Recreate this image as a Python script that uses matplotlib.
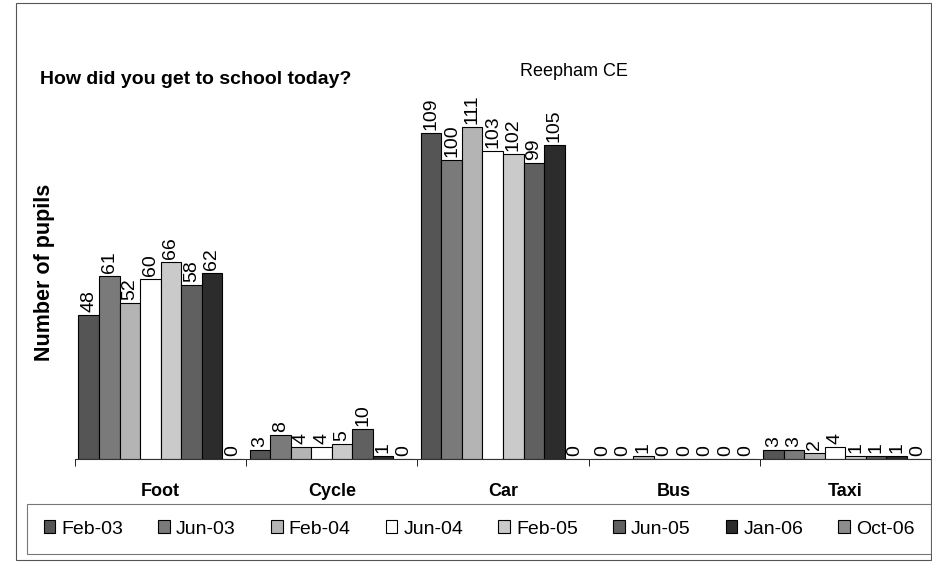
import matplotlib.pyplot as plt
import matplotlib.patches as mpatches
import numpy as np

plt.rcParams['font.family'] = ['Liberation Sans', 'DejaVu Sans']

categories = ["Foot", "Cycle", "Car", "Bus", "Taxi"]
periods = ["Feb-03", "Jun-03", "Feb-04", "Jun-04", "Feb-05", "Jun-05", "Jan-06", "Oct-06"]

# pupils per mode, one list per survey date
feb03 = [48, 3, 109, 0, 3]
jun03 = [61, 8, 100, 0, 3]
feb04 = [52, 4, 111, 1, 2]
jun04 = [60, 4, 103, 0, 4]
feb05 = [66, 5, 102, 0, 1]
jun05 = [58, 10, 99, 0, 1]
jan06 = [62, 1, 105, 0, 1]
oct06 = [0, 0, 0, 0, 0]
series = [feb03, jun03, feb04, jun04, feb05, jun05, jan06, oct06]

colors = ["#555555", "#7a7a7a", "#b4b4b4", "#ffffff", "#cacaca", "#606060", "#2c2c2c", "#8c8c8c"]

fig = plt.figure(figsize=(9.32, 5.63), dpi=100)
ax = fig.add_axes([75/932, 104/563, 856/932, 377/563])

x = np.arange(len(categories))
w = 0.12
for i, vals in enumerate(series):
    pos = x - 0.48 + w * (i + 0.5)
    bars = ax.bar(pos, vals, w, color=colors[i], edgecolor="black", linewidth=0.8, label=periods[i])
    for b, v in zip(bars, vals):
        ax.text(b.get_x() + b.get_width() / 2, v + 1.0, str(v), rotation=90,
                ha="center", va="bottom", fontsize=14)

ax.set_xlim(-0.5, 4.5)
ax.set_ylim(0, 126)
ax.set_yticks([])
ax.set_xticks(x)
ax.set_xticklabels(categories, fontsize=13, fontweight="bold")
ax.set_xticks(np.arange(-0.5, 5, 1), minor=True)
ax.tick_params(axis="x", which="major", length=0, pad=17)
ax.tick_params(axis="x", which="minor", length=5, direction="out")
for s in ["top", "right", "left"]:
    ax.spines[s].set_visible(False)
ax.spines["bottom"].set_color("#333333")

fig.text(45/932, 1 - 272/563, "Number of pupils", rotation=90, ha="center", va="center",
         fontsize=15.5, fontweight="bold")
fig.text(40/932, 1 - 80/563, "How did you get to school today?", ha="left", va="center",
         fontsize=14, fontweight="bold")
fig.text(520/932, 1 - 72/563, "Reepham CE", ha="left", va="center", fontsize=13)

leg = fig.legend(loc="center left", bbox_to_anchor=(27/932, 1 - 529/563, 904/932, 0), mode="expand",
                 ncol=8, fontsize=14, frameon=True, fancybox=False, edgecolor="#555555",
                 handlelength=0.6, handleheight=0.6, handletextpad=0.3, columnspacing=0.5,
                 borderpad=0.85, borderaxespad=0)
leg.get_frame().set_linewidth(0.8)

fig.patches.append(mpatches.Rectangle((16/932, 3/563), 915/932, 557/563, transform=fig.transFigure,
                                      fill=False, edgecolor="#555555", linewidth=0.8))

fig.savefig("out.png", dpi=100)
